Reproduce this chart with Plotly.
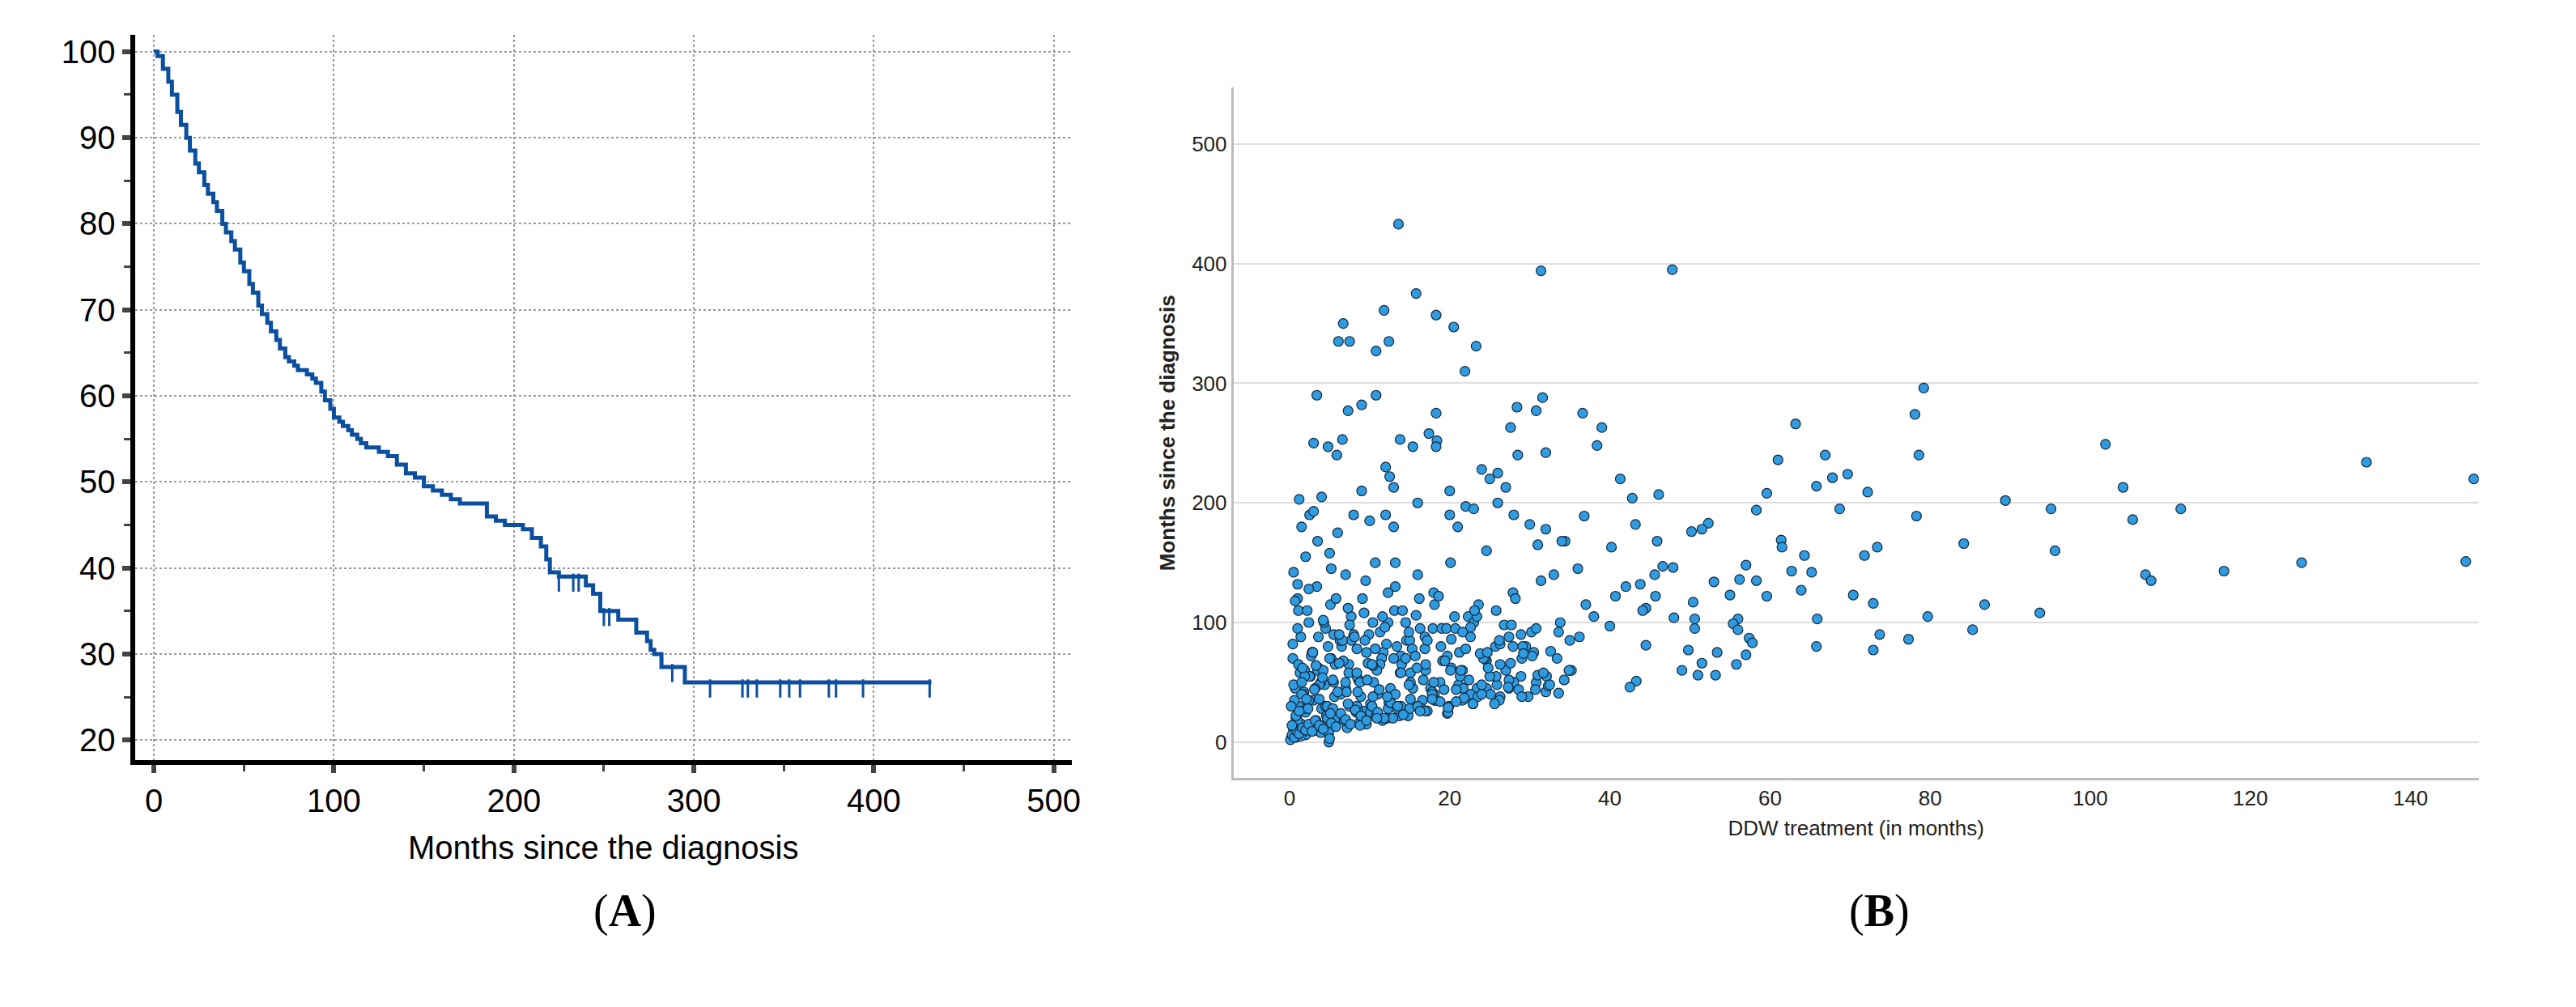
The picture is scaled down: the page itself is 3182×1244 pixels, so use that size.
import plotly.graph_objects as go

# Panel A: Kaplan-Meier survival (step curve)
km_time = [0, 2, 5, 8, 10, 13, 15, 18, 20, 23, 25, 28, 30, 33, 35, 38, 40, 43, 45, 48, 50,
           53, 55, 58, 60, 63, 65, 68, 70, 73, 75, 78, 80, 83, 85, 88, 90, 93, 95, 98, 100,
           103, 105, 108, 110, 113, 115, 118, 120, 125, 130, 135, 140, 145, 150, 155, 160,
           165, 170, 175, 180, 185, 190, 195, 200, 205, 210, 215, 218, 220, 225, 230, 240,
           244, 248, 258, 268, 274, 276, 278, 282, 295, 432]
km_surv = [100, 99.5, 98, 96.5, 95, 93, 91.5, 90, 88.5, 87, 86, 84.5, 83.5, 82.5, 81.5, 80,
           79, 78, 77, 75.5, 74.5, 73, 72, 70.5, 69.5, 68.5, 67.5, 66.5, 65.5, 64.5, 64, 63.5,
           63, 63, 62.5, 62, 61.5, 60.5, 59.5, 58.5, 57.5, 57, 56.5, 56, 55.5, 55, 54.5, 54,
           54, 53.5, 53, 52, 51, 50.5, 49.5, 49, 48.5, 48, 47.5, 47.5, 47.5, 46, 45.5, 45,
           45, 44.5, 43.5, 42.5, 41, 39.5, 39, 39, 38, 37, 35, 34, 32.5, 31.5, 30.5, 30,
           28.5, 26.7, 26.7]
cens_time = [225, 233, 236, 250, 253, 288, 309, 327, 330, 335, 348, 353, 359, 375, 379, 394, 431]
cens_surv = [38.3, 38.3, 38.3, 34.3, 34.3, 27.8, 26.0, 26.0, 26.0, 26.0, 26.0, 26.0, 26.0,
             26.0, 26.0, 26.0, 26.0]

# Panel B: DDW treatment vs months since diagnosis
ddw_x = [13.6, 31.4, 47.8, 15.8, 11.8, 18.3, 20.5, 6.7, 6.1, 7.5, 12.4, 10.8, 23.3, 21.9, 3.4,
         10.8, 9, 7.3, 31.6, 28.4, 30.8, 18.3, 36.6, 39, 27.6, 17.4, 13.8, 18.4, 18.3, 15.4,
         38.4, 3, 6.6, 4.8, 5.9, 28.5, 32, 79.2, 78.1, 63.2, 78.6, 66.9, 61, 101.9, 134.5,
         147.9, 104.1, 69.7, 67.8, 65.8, 41.3, 46.1, 42.8, 59.6, 72.2, 89.4, 95.1, 111.3, 68.7,
         58.3, 105.3, 78.3, 36.8, 43.2, 52.3, 50.2, 51.5, 45.9, 34.4, 40.2, 61.4, 61.5, 64.3,
         73.4, 71.8, 84.2, 95.6, 146.9, 126.4, 116.7, 106.9, 107.6, 62.7, 65.2, 57, 46.6, 47.9,
         45.6, 53, 56.2, 58.3, 43.8, 42, 63.9, 55, 59.6, 70.4, 45.7, 40.7, 72.9, 86.8, 50.4,
         44.5, 44.1, 79.7, 93.7, 48, 50.6, 56, 65.9, 55.4, 56, 50.6, 85.3, 73.7, 77.3, 57.4,
         57.8, 44.5, 49.8, 65.8, 72.9, 53.4, 57, 51.5, 55.8, 49, 51, 53.2, 43.3, 42.5,
         1.2, 2.5, 3, 1.5, 4, 2, 0.5, 1, 1, 3.5, 5, 6, 8, 10, 9, 12, 12.5, 13, 12, 13, 16, 20,
         22, 24, 25, 26, 27, 26, 28, 20, 21, 23, 30, 32, 31, 34, 33, 36, 37, 40, 38, 35,
         0.3, 0.5, 0.8, 1.0, 1.2, 1.5, 1.8, 2.0, 2.3, 2.6, 3.0, 3.3, 3.6, 4.0, 4.4, 4.8, 5.2,
         5.6, 6.0, 6.5, 7.0, 7.5, 8.0, 8.6, 9.2, 9.8, 10.4, 11.0, 11.7, 12.4, 13.1, 13.8,
         14.6, 15.4, 16.2, 17.0, 17.9, 18.8, 19.7, 20.6, 21.6, 22.6, 23.6, 24.6, 25.7, 26.8,
         27.9, 29.0, 30.2, 31.4, 32.6, 33.8, 35.0, 36.2,
         0.4, 0.7, 1.1, 1.4, 1.9, 2.4, 2.9, 3.4, 3.9, 4.5, 5.1, 5.7, 6.3, 7.0, 7.7, 8.4, 9.1,
         9.9, 10.7, 11.5, 12.3, 13.2, 14.1, 15.0, 16.0, 17.0, 18.0, 19.0, 20.1, 21.2, 22.3,
         23.4, 24.6, 25.8, 27.0, 28.2, 29.5, 30.8, 32.1, 33.4,
         0.6, 1.3, 2.1, 2.8, 3.7, 4.6, 5.5, 6.4, 7.4, 8.4, 9.4, 10.5, 11.6, 12.7, 13.9, 15.1,
         16.3, 17.6, 18.9, 20.2, 21.6, 23.0, 24.4, 25.9, 27.4, 28.9, 30.5, 32.0, 33.6, 35.2,
         0.2, 0.9, 1.7, 2.6, 3.5, 4.5, 5.5, 6.6, 7.7, 8.9, 10.1, 11.3, 12.6, 13.9, 15.3, 16.7,
         18.1, 19.6, 21.1, 22.6, 24.2, 25.8, 27.4, 29.1, 30.8,
         0.5, 1.5, 2.5, 3.6, 4.7, 5.9, 7.1, 8.3, 9.6, 10.9, 12.3, 13.7, 15.1, 16.6, 18.1, 19.7,
         21.3, 22.9, 24.6, 26.3, 28.0,
         0.8, 2.0, 3.2, 4.5, 5.8, 7.2, 8.6, 10.1, 11.6, 13.2, 14.8, 16.5, 18.2, 19.9, 21.7, 23.5,
         1.0, 2.4, 3.9, 5.4, 7.0, 8.7, 10.4, 12.2, 14.0, 15.9, 17.8, 19.8,
         1.4, 3.1, 4.9, 6.8, 8.8, 10.8, 12.9, 15.0, 17.2, 4.9, 5.0,
         0.1, 0.3, 0.6, 0.9, 1.2, 1.6, 2.0, 2.4, 2.8, 3.2, 3.7, 4.2, 4.7, 5.2, 5.8, 6.4, 7.0,
         7.6, 8.2, 8.9, 9.6, 10.3, 11.0, 11.8, 12.6, 13.4, 14.2, 15.1, 16.0, 16.9, 17.8, 18.8,
         19.8, 20.8, 21.8, 22.9, 24.0, 25.1, 26.2, 27.4, 28.6, 29.8, 31.0, 32.3, 33.6, 34.9,
         0.2, 0.5, 0.8, 1.1, 1.5, 1.9, 2.3, 2.7, 3.2, 3.7, 4.2, 4.8, 5.4, 6.0, 6.7, 7.4, 8.1,
         8.8, 9.6, 10.4, 11.2, 12.1, 13.0, 13.9, 14.9, 15.9, 16.9, 18.0, 19.1, 20.2, 21.4,
         22.6, 23.8, 25.0, 26.3, 27.6, 28.9, 30.3, 31.7,
         0.4, 1.0, 1.6, 2.2, 2.9, 3.6, 4.3, 5.0, 5.8, 6.6, 7.5, 8.4, 9.3, 10.3, 11.3, 12.3,
         13.4, 14.5, 15.7, 16.9, 18.1, 19.4, 20.7, 22.0, 23.4, 24.8, 26.2, 27.7, 29.2,
         0.7, 1.5, 2.4, 3.3, 4.2, 5.2, 6.2, 7.3, 8.4, 9.5, 10.7, 11.9, 13.2, 14.5, 15.8, 17.2,
         18.6, 20.1, 21.6, 23.1, 24.7, 26.3, 27.9,
         0.3, 1.2, 2.1, 3.1, 4.1, 5.1, 6.2, 7.3, 8.5, 9.7, 10.9, 12.2, 13.5, 14.9, 16.3, 17.8,
         19.3, 20.8, 22.4, 24.0, 25.6, 27.3, 29.0, 30.7, 32.5, 34.3]
ddw_y = [433, 394, 395, 375, 361, 357, 347, 350, 335, 335, 335, 327, 331, 310, 290, 290, 282,
         277, 288, 280, 277, 275, 275, 263, 263, 258, 253, 252, 247, 247, 248, 250, 253, 247,
         240, 240, 242, 296, 274, 266, 240, 240, 236, 249, 234, 220, 213, 224, 221, 214, 220,
         207, 204, 208, 209, 202, 195, 195, 195, 194, 186, 189, 189, 182, 183, 176, 178, 168,
         168, 163, 169, 163, 156, 163, 156, 166, 160, 151, 150, 143, 140, 135, 143, 142, 148,
         147, 146, 140, 134, 136, 135, 132, 130, 127, 123, 122, 123, 122, 122, 116, 115, 117,
         112, 110, 105, 108, 104, 103, 103, 103, 99, 94, 95, 94, 90, 86, 87, 83, 81, 77, 80,
         77, 75, 73, 66, 65, 60, 56, 56, 51, 46,
         203, 190, 193, 180, 205, 155, 142, 132, 120, 168, 158, 175, 190, 185, 210, 230, 222,
         213, 190, 180, 200, 190, 197, 228, 220, 225, 213, 200, 190, 210, 180, 195, 182, 178,
         165, 168, 140, 145, 115, 97, 105, 85,
         5, 12, 20, 8, 30, 15, 42, 25, 10, 55, 35, 18, 62, 28, 48, 14, 70, 38, 22, 80, 45, 30,
         90, 52, 26, 66, 100, 40, 75, 33, 110, 58, 85, 45, 120, 60, 95, 50, 72, 105, 60, 88,
         115, 68, 80, 98, 125, 70, 92, 135, 76, 100, 60, 88,
         70, 45, 110, 88, 60, 100, 75, 130, 50, 95, 115, 65, 85, 140, 105, 55, 120, 90, 150,
         70, 100, 130, 110, 85, 140, 65, 125, 95, 150, 75, 105, 45, 160, 110, 60, 120, 80, 95,
         55, 70,
         35, 58, 28, 75, 48, 22, 90, 40, 65, 30, 85, 50, 105, 38, 72, 58, 95, 45, 80, 62, 35,
         100, 70, 48, 88, 55, 75, 42, 92, 60,
         3, 22, 40, 15, 60, 30, 50, 20, 85, 38, 25, 65, 45, 30, 78, 52, 35, 95, 48, 40, 70, 55,
         45, 80, 50,
         10, 8, 55, 12, 30, 18, 42, 25, 15, 60, 28, 22, 50, 35, 40, 24, 55, 32, 45, 38, 50,
         4, 6, 10, 15, 20, 12, 25, 32, 18, 40, 22, 28, 35, 30, 45, 38,
         18, 35, 8, 28, 50, 16, 38, 20, 65, 30, 42, 25,
         5, 12, 8, 18, 14, 22, 20, 28, 26, 0, 3,
         2, 6, 4, 9, 7, 12, 10, 15, 9, 18, 14, 11, 20, 16, 13, 24, 19, 15, 27, 22, 18, 30, 25,
         20, 33, 28, 23, 36, 30, 26, 40, 34, 29, 44, 37, 32, 48, 40, 35, 52, 44, 38, 56, 47,
         41, 60,
         30, 48, 22, 65, 40, 55, 28, 72, 45, 36, 60, 80, 52, 42, 68, 58, 88, 50, 75, 64, 44,
         82, 70, 58, 92, 62, 78, 50, 68, 86, 60, 96, 74, 55, 82, 66, 90, 72, 58,
         82, 95, 62, 110, 75, 88, 100, 70, 120, 85, 98, 78, 108, 65, 92, 125, 80, 100, 72, 88,
         115, 68, 95, 78, 105, 62, 85, 98, 74,
         118, 50, 128, 64, 102, 145, 90, 112, 58, 135, 78, 96, 150, 70, 106, 85, 122, 60, 92,
         110, 75, 65, 80,
         14, 26, 36, 44, 54, 24, 66, 32, 42, 52, 20, 38, 30, 48, 26, 36, 44, 34, 52, 40, 32, 46,
         38, 44, 48, 52]

fig = go.Figure()

fig.add_trace(go.Scatter(
    x=km_time, y=km_surv, mode="lines", line=dict(color="#0b4f9e", width=5, shape="hv"),
    xaxis="x", yaxis="y", showlegend=False,
))
fig.add_trace(go.Scatter(
    x=cens_time, y=cens_surv, mode="markers",
    marker=dict(symbol="line-ns-open", size=16, color="#0b4f9e",
                line=dict(color="#0b4f9e", width=3)),
    xaxis="x", yaxis="y", showlegend=False,
))
fig.add_trace(go.Scatter(
    x=ddw_x, y=ddw_y, mode="markers",
    marker=dict(size=12, color="#2f9be0", line=dict(color="#14283c", width=1.2)),
    xaxis="x2", yaxis="y2", showlegend=False,
))

fontA = dict(family="Liberation Sans, Arial", size=40, color="black")
fontB = dict(family="Liberation Sans, Arial", size=26, color="#222222")

fig.update_layout(
    width=3182, height=1244,
    margin=dict(l=0, r=0, t=0, b=0),
    plot_bgcolor="white", paper_bgcolor="white",
    xaxis=dict(
        domain=[0.05, 0.415], anchor="y", range=[-10.6, 510],
        tickvals=[0, 100, 200, 300, 400, 500], tickfont=fontA,
        title=dict(text="Months since the diagnosis", font=fontA, standoff=25),
        showgrid=True, gridcolor="#999999", griddash="dot", gridwidth=2,
        showline=True, linecolor="black", linewidth=6,
        ticks="outside", ticklen=10, tickwidth=6, tickcolor="#444444",
        minor=dict(dtick=50, ticks="outside", ticklen=8, tickwidth=3, tickcolor="#444444",
                   showgrid=False),
        zeroline=False,
    ),
    yaxis=dict(
        domain=[0.252, 0.973], anchor="x", range=[17.7, 102],
        tickvals=[20, 30, 40, 50, 60, 70, 80, 90, 100], tickfont=fontA,
        showgrid=True, gridcolor="#999999", griddash="dot", gridwidth=2,
        showline=True, linecolor="black", linewidth=6,
        ticks="outside", ticklen=10, tickwidth=6, tickcolor="#444444",
        minor=dict(dtick=5, ticks="outside", ticklen=8, tickwidth=3, tickcolor="#444444",
                   showgrid=False),
        zeroline=False,
    ),
    xaxis2=dict(
        domain=[0.478, 0.963], anchor="y2", range=[-7, 148.5],
        tickvals=[0, 20, 40, 60, 80, 100, 120, 140], tickfont=fontB,
        title=dict(text="DDW treatment (in months)", font=fontB, standoff=14),
        showgrid=False, showline=True, linecolor="#bbbbbb", linewidth=3,
        ticks="", zeroline=False,
    ),
    yaxis2=dict(
        domain=[0.234, 0.92], anchor="x2", range=[-30, 547],
        tickvals=[0, 100, 200, 300, 400, 500], tickfont=fontB,
        title=dict(text="<b>Months since the diagnosis</b>", font=fontB, standoff=14),
        showgrid=True, gridcolor="#dddddd", gridwidth=2,
        showline=True, linecolor="#bbbbbb", linewidth=3,
        ticks="", zeroline=False,
    ),
    annotations=[
        dict(text="(<b>A</b>)", x=0.228, y=0.075, xref="paper", yref="paper",
             showarrow=False, font=dict(family="Liberation Serif", size=56, color="black")),
        dict(text="(<b>B</b>)", x=0.742, y=0.075, xref="paper", yref="paper",
             showarrow=False, font=dict(family="Liberation Serif", size=56, color="black")),
    ],
)

fig.write_html("out.html")
